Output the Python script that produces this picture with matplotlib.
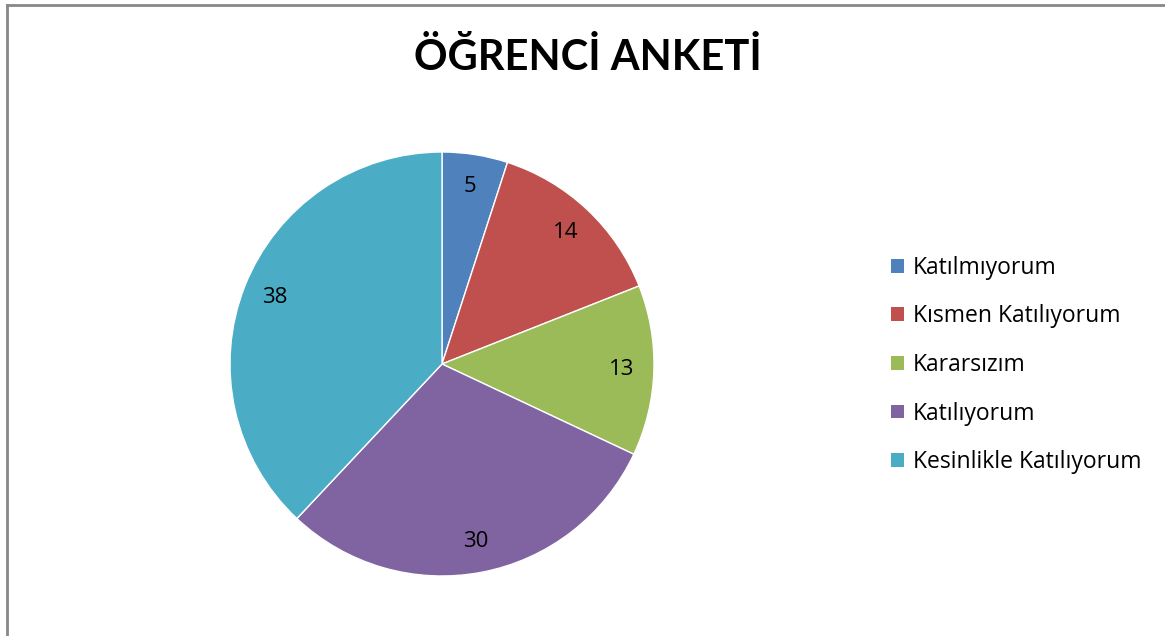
import matplotlib.pyplot as plt
from matplotlib.patches import Patch
from matplotlib.lines import Line2D

# data
kategoriler = ["Katılmıyorum", "Kısmen Katılıyorum", "Kararsızım",
               "Katılıyorum", "Kesinlikle Katılıyorum"]
degerler = [5, 14, 13, 30, 38]
renkler = ["#4F81BD", "#C0504D", "#9BBB59", "#8064A2", "#4BACC6"]

plt.rcParams['font.family'] = ['Open Sans', 'DejaVu Sans']

fig = plt.figure(figsize=(11.65, 6.36), dpi=100)

# pie axes, centre ~ (442, 364) px, radius ~212 px
W, H = 1165, 636
cx, cy, r = 442, 364, 212
ax = fig.add_axes([(cx - r) / W, 1 - (cy + r) / H, 2 * r / W, 2 * r / H])
ax.pie(degerler, colors=renkler, startangle=90, counterclock=False,
       labels=[str(v) for v in degerler], labeldistance=0.85,
       textprops=dict(fontsize=16, color='black', ha='center', va='center'),
       wedgeprops=dict(linewidth=1, edgecolor='white'))
ax.set_xlim(-1, 1)
ax.set_ylim(-1, 1)
ax.set_aspect('equal')

fig.text(0.505, 1 - 57 / H, "ÖĞRENCİ ANKETİ", ha='center', va='center',
         fontsize=30, fontweight='bold', family=['Lato', 'DejaVu Sans'])

# legend
handles = [Patch(facecolor=c, edgecolor='none') for c in renkler]
fig.legend(handles, kategoriler, loc='center left',
           bbox_to_anchor=(882 / W, 1 - 365 / H), frameon=False,
           fontsize=16.5, handlelength=0.55, handleheight=0.55,
           handletextpad=0.4, labelspacing=1.07, borderaxespad=0)

# gray frame (top and left visible)
fig.add_artist(Line2D([7 / W, 7 / W], [0, 1 - 5 / H], transform=fig.transFigure,
                      color='#888888', linewidth=2))
fig.add_artist(Line2D([7 / W, 1], [1 - 5 / H, 1 - 5 / H], transform=fig.transFigure,
                      color='#888888', linewidth=2))

fig.savefig("out.png", dpi=100)
